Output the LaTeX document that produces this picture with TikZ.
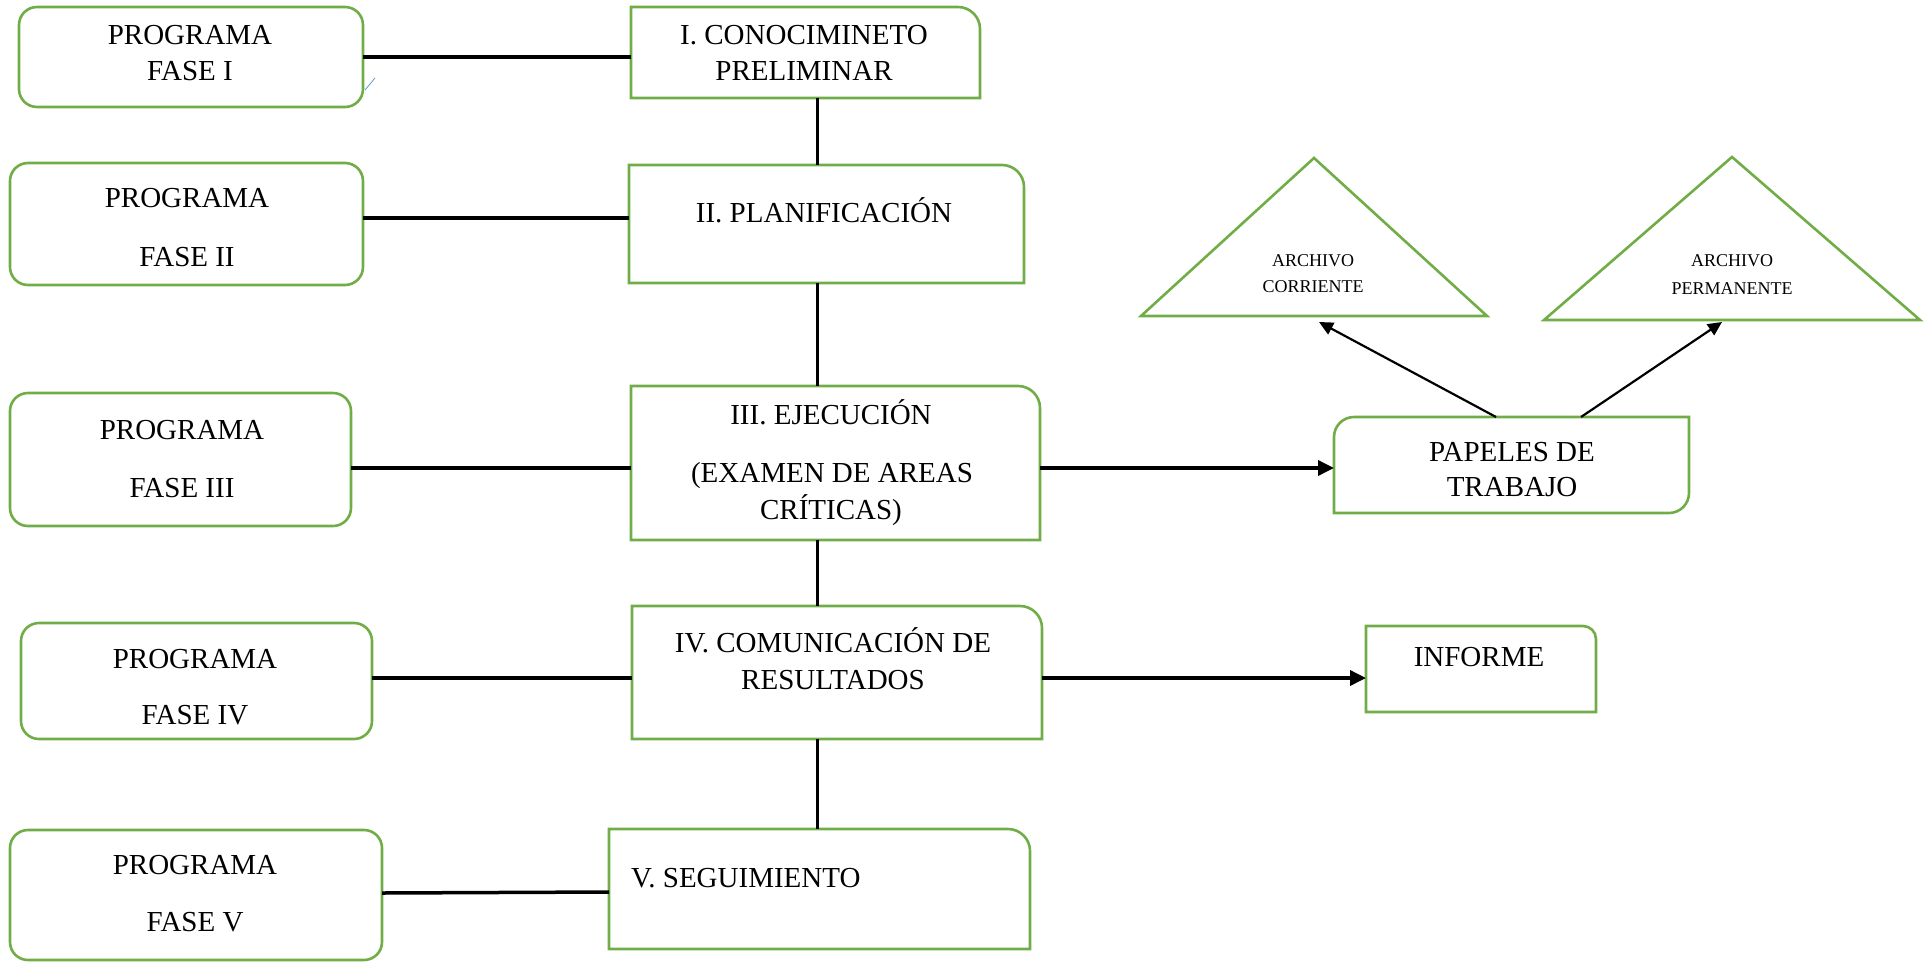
\documentclass[tikz,border=0pt]{standalone}
\usepackage{fontspec}
\setmainfont{Liberation Serif}
\usetikzlibrary{arrows.meta}
\definecolor{ggreen}{HTML}{70AD47}
\definecolor{gblue}{HTML}{5B9BD5}
\begin{document}
\begin{tikzpicture}[x=1pt,y=-1pt,
  rbox/.style={draw=ggreen,line width=2.6pt,rounded corners=18pt,inner sep=0pt,outer sep=0pt},
  frame/.style={draw=none,inner sep=0pt,outer sep=0pt},
  gline/.style={draw=ggreen,line width=2.6pt,line join=miter},
  txt/.style={font=\fontsize{29}{34}\selectfont,inner sep=0pt,anchor=base},
  stxt/.style={font=\fontsize{18}{22}\selectfont,inner sep=0pt,anchor=base},
  conn/.style={draw=black,line width=3.5pt},
  vconn/.style={draw=black,line width=3pt},
  arr/.style={draw=black,line width=3.5pt,-{Triangle[length=16pt,width=15pt]}},
  arrs/.style={draw=black,line width=2.2pt,-{Triangle[length=14pt,width=13pt]}}]
\useasboundingbox (0,0) rectangle (1926,964);

% left program boxes
\node[rbox,minimum width=344pt,minimum height=100pt] (pf1) at (191,57) {};
\node[rbox,minimum width=353pt,minimum height=122pt] (pf2) at (186.5,224) {};
\node[rbox,minimum width=341pt,minimum height=133pt] (pf3) at (180.5,459.5) {};
\node[rbox,minimum width=351pt,minimum height=116pt] (pf4) at (196.5,681) {};
\node[rbox,minimum width=372pt,minimum height=130pt] (pf5) at (196,895) {};

\node[txt] (pf1a) at (190,44.6) {PROGRAMA};
\node[txt] (pf1b) at (190,80.6) {FASE I};
\node[txt] (pf2a) at (187,207.6) {PROGRAMA};
\node[txt] (pf2b) at (187,266.6) {FASE II};
\node[txt] (pf3a) at (182,439.6) {PROGRAMA};
\node[txt] (pf3b) at (182,497.6) {FASE III};
\node[txt] (pf4a) at (195,668.6) {PROGRAMA};
\node[txt] (pf4b) at (195,724.6) {FASE IV};
\node[txt] (pf5a) at (195,874.6) {PROGRAMA};
\node[txt] (pf5b) at (195,931.6) {FASE V};

% blue artifact
\draw[gblue,line width=0.8pt] (365,90) -- (375,78);

% central phase boxes
\node[frame,minimum width=349pt,minimum height=91pt] (f1) at (805.5,52.5) {};
\node[frame,minimum width=395pt,minimum height=118pt] (f2) at (826.5,224) {};
\node[frame,minimum width=409pt,minimum height=154pt] (f3) at (835.5,463) {};
\node[frame,minimum width=410pt,minimum height=133pt] (f4) at (837,672.5) {};
\node[frame,minimum width=421pt,minimum height=120pt] (f5) at (819.5,889) {};
\foreach \n in {f1,f2,f3,f4,f5}{
  \draw[gline] (\n.south west) -- (\n.north west) -- ([xshift=-22pt]\n.north east)
    arc[start angle=90,end angle=0,radius=22pt] -- (\n.south east) -- cycle;
}
\node[txt] (f1a) at (804,44.6) {I. CONOCIMINETO};
\node[txt] (f1b) at (804,80.6) {PRELIMINAR};
\node[txt] (f2a) at (824,222.6) {II. PLANIFICACIÓN};
\node[txt] (f3a) at (831,424.6) {III. EJECUCIÓN};
\node[txt] (f3b) at (832,482.6) {(EXAMEN DE AREAS};
\node[txt] (f3c) at (831,519.6) {CRÍTICAS)};
\node[txt] (f4a) at (833,652.6) {IV. COMUNICACIÓN DE};
\node[txt] (f4b) at (833,689.6) {RESULTADOS};
\node[txt,anchor=base west] (f5a) at (631,887.6) {V. SEGUIMIENTO};

% right side boxes
\node[frame,minimum width=355pt,minimum height=96pt] (pap) at (1511.5,465) {};
\draw[gline] ([yshift=-20pt]pap.north west) arc[start angle=180,end angle=90,radius=20pt]
  -- (pap.north east) -- ([yshift=20pt]pap.south east)
  arc[start angle=0,end angle=-90,radius=20pt] -- (pap.south west) -- cycle;
\node[txt] (papa) at (1512,461.6) {PAPELES DE};
\node[txt] (papb) at (1512,496.6) {TRABAJO};

\node[frame,minimum width=230pt,minimum height=86pt] (inf) at (1481,669) {};
\draw[gline] (inf.south west) -- (inf.north west) -- ([xshift=-13pt]inf.north east)
  arc[start angle=90,end angle=0,radius=13pt] -- (inf.south east) -- cycle;
\node[txt] (infa) at (1479,666.6) {INFORME};

% triangles
\node[frame,minimum width=346pt,minimum height=158pt] (t1) at (1314,237) {};
\draw[gline] (t1.south west) -- (t1.north) -- (t1.south east) -- cycle;
\node[stxt] (t1a) at (1313,266) {ARCHIVO};
\node[stxt] (t1b) at (1313,292) {CORRIENTE};

\node[frame,minimum width=376pt,minimum height=163pt] (t2) at (1732,238.5) {};
\draw[gline] (t2.south west) -- (t2.north) -- (t2.south east) -- cycle;
\node[stxt] (t2a) at (1732,266) {ARCHIVO};
\node[stxt] (t2b) at (1732,294) {PERMANENTE};

% vertical connectors
\coordinate (vx) at (817,0);
\draw[vconn] (f1.south -| vx) -- (f2.north -| vx);
\draw[vconn] (f2.south -| vx) -- (f3.north -| vx);
\draw[vconn] (f3.south -| vx) -- (f4.north -| vx);
\draw[vconn] (f4.south -| vx) -- (f5.north -| vx);

% horizontal connectors
\draw[conn] (pf1.east) -- (pf1.east -| f1.west);
\coordinate (c2) at ([yshift=6pt]pf2.east);
\draw[conn] (c2) -- (c2 -| f2.west);
\coordinate (c3) at ([yshift=-8.5pt]pf3.east);
\draw[conn] (c3) -- (c3 -| f3.west);
\coordinate (c4) at ([yshift=3pt]pf4.east);
\draw[conn] (c4) -- (c4 -| f4.west);
\draw[conn] ([yshift=2pt]pf5.east) -- ([yshift=-3pt]f5.west);

% arrows
\coordinate (a3) at ([yshift=-5pt]f3.east);
\draw[arr] (a3) -- (a3 -| pap.west);
\coordinate (a4) at ([yshift=-5.5pt]f4.east);
\draw[arr] (a4) -- (a4 -| inf.west);
\draw[arrs] ([xshift=-15.5pt]pap.north) -- ([xshift=5pt,yshift=-6pt]t1.south);
\draw[arrs] ([xshift=69.5pt]pap.north) -- ([xshift=-10pt,yshift=-2pt]t2.south);
\end{tikzpicture}
\end{document}
